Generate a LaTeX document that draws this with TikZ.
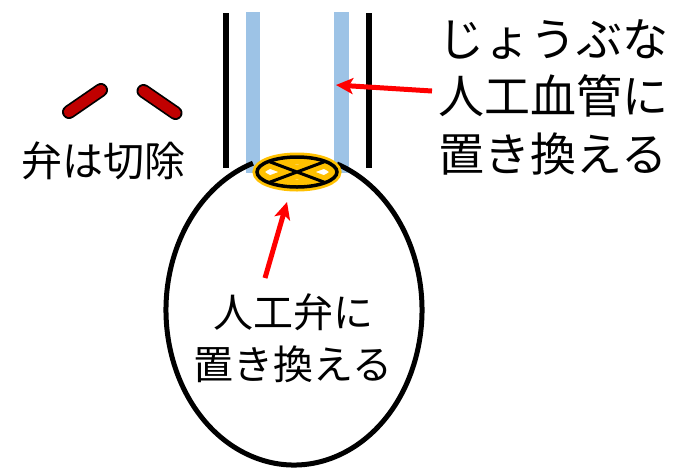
\documentclass[tikz,border=0pt]{standalone}
\usepackage{fontspec}
\newfontfamily\jp{Noto Sans CJK JP}
\usetikzlibrary{arrows.meta}
\definecolor{vesselblue}{HTML}{9DC3E6}
\definecolor{valveorange}{HTML}{FFC000}
\definecolor{leafletred}{HTML}{C00000}
\begin{document}
\begin{tikzpicture}[x=1pt,y=-1pt,
  wall/.style={line width=6pt},
  graft/.style={fill=vesselblue},
  pointer/.style={red, line width=5pt, -{Stealth[length=17pt,width=16pt,inset=4pt]}},
  label/.style={font=\jp, align=center, inner sep=0pt},
  leafout/.style={line width=14pt, line cap=round},
  leafin/.style={leafletred, line width=10.5pt, line cap=round}]
\useasboundingbox (0,0) rectangle (686,467);

% graft (blue) and aortic wall (black)
\fill[graft] (246,12) rectangle (260,173);
\fill[graft] (334,12) rectangle (349,173);
\draw[wall] (226,13) -- (226,168);
\draw[wall] (369,13) -- (369,168);

% ventricle outline, open at the top
\draw[line width=5pt] (294,310) ++(289.6:128 and 155)
  arc[start angle=289.6, end angle=611.3, x radius=128, y radius=155];

% prosthetic valve
\coordinate (valve) at (297,172);
\begin{scope}
  \clip (valve) ellipse [x radius=40, y radius=15];
  \fill[white] (valve) ellipse [x radius=40, y radius=15];
  \draw[valveorange, line width=15pt] (valve) ellipse [x radius=40, y radius=15];
  \draw[valveorange, line width=13pt] (269,161.5) -- (325,182.5) (269,182.5) -- (325,161.5);
\end{scope}
\draw[valveorange, line width=9pt] (valve) ellipse [x radius=40, y radius=15];
\draw[line width=3.5pt] (valve) ellipse [x radius=40, y radius=15];
\draw[line width=3pt] (269,161.5) -- (325,182.5) (269,182.5) -- (325,161.5);
\coordinate (valvebottom) at (287,202);

% removed leaflets
\draw[leafout] (69,112) -- (101,90);
\draw[leafin] (69,112) -- (101,90);
\draw[leafout] (143.5,91) -- (175.5,113);
\draw[leafin] (143.5,91) -- (175.5,113);

% labels
\node[label, font=\jp\fontsize{41}{50}\selectfont] (cut) at (103.5,161) {弁は切除};
\node[label, font=\jp\fontsize{46}{57.5}\selectfont] (graftlabel) at (553,97)
  {じょうぶな\\人工血管に\\置き換える};
\node[label, font=\jp\fontsize{40}{52}\selectfont] (valvelabel) at (293,338)
  {人工弁に\\置き換える};

% pointers
\coordinate (grafttip) at (336,85);
\coordinate (grafttail) at (432,91);
\coordinate (valvetail) at (265,278);
\draw[pointer] (grafttail) -- (grafttip);
\draw[pointer] (valvetail) -- (valvebottom);
\end{tikzpicture}
\end{document}
